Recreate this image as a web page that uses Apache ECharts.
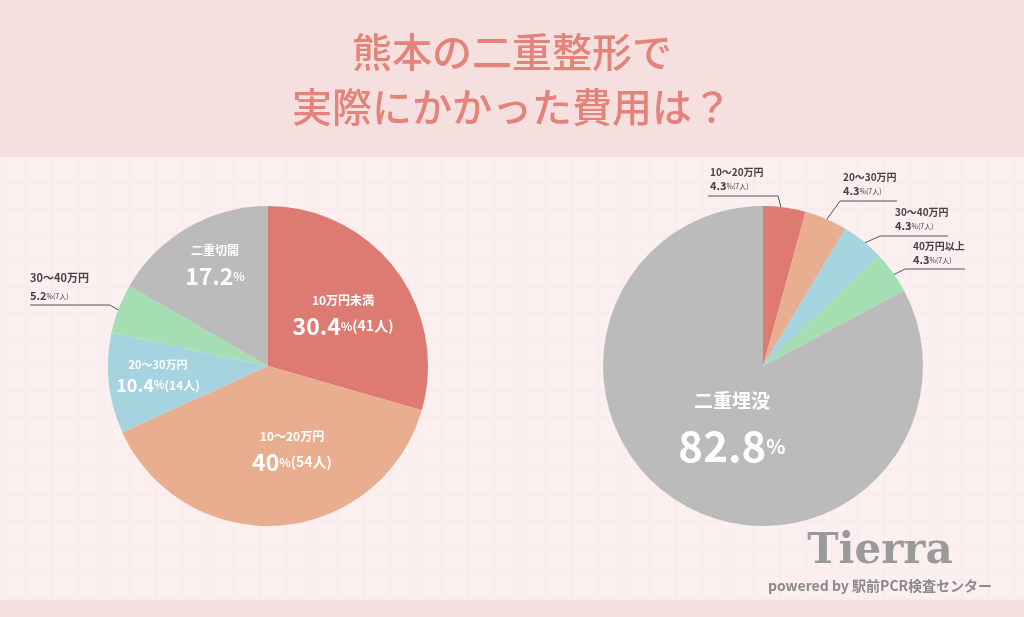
<!DOCTYPE html>
<html><head><meta charset="utf-8">
<script src="https://cdn.jsdelivr.net/npm/echarts@6/dist/echarts.min.js"></script>
<style>html,body{margin:0;padding:0;background:#fbefef}#c{width:1024px;height:617px}</style>
</head><body><div id="c"></div>
<script>
const titleLines = ['熊本の二重整形で', '実際にかかった費用は？'];
const leftNames = ['10万円未満', '10〜20万円', '20〜30万円', '30〜40万円', '二重切開'];
const leftValues = [30.4, 40, 10.4, 5.2, 17.2];
const leftCounts = ['41人', '54人', '14人', '7人', ''];
const rightNames = ['10〜20万円', '20〜30万円', '30〜40万円', '40万円以上', '二重埋没'];
const rightValues = [4.3, 4.3, 4.3, 4.3, 82.8];
const rightCounts = ['7人', '7人', '7人', '7人', ''];
const colors = ['#dd7b73', '#e9ae8f', '#a6d3e0', '#a6deb4', '#bbbbbb'];

const font = '"Noto Sans CJK JP", "Noto Sans", sans-serif';
const leftLayout = [
  {x:343, y:312}, {x:292, y:448}, {x:158, y:374, small:true},
  {x:30, y:283, left:true, pts:[[125,314],[110,305],[30,305]]},
  {x:215, y:262}
];
const rightLayout = [
  {x:710, y:178, left:true, pts:[[783,215],[778,196],[708,196]]},
  {x:843, y:183, left:true, pts:[[822,226],[840,201],[897,201]]},
  {x:895, y:218, left:true, pts:[[858,246],[880,236],[948,236]]},
  {x:913, y:252, left:true, pts:[[887,278],[905,269],[965,269]]},
  {x:732, y:422}
];
const rich = {
  n:{fontSize:12,fontWeight:'bold',color:'#fff',fontFamily:font,lineHeight:28},
  b:{fontSize:23,fontWeight:'bold',color:'#fff',fontFamily:font},
  s:{fontSize:12,fontWeight:'bold',color:'#fff',fontFamily:font},
  c:{fontSize:14,fontWeight:'bold',color:'#fff',fontFamily:font},
  sn:{fontSize:11,fontWeight:'bold',color:'#fff',fontFamily:font,lineHeight:22},
  sb:{fontSize:18,fontWeight:'bold',color:'#fff',fontFamily:font},
  ss:{fontSize:11,fontWeight:'bold',color:'#fff',fontFamily:font},
  sc:{fontSize:12,fontWeight:'bold',color:'#fff',fontFamily:font},
  N:{fontSize:19,fontWeight:'bold',color:'#fff',fontFamily:font,lineHeight:48},
  B:{fontSize:42,fontWeight:'bold',color:'#fff',fontFamily:font},
  S:{fontSize:20,fontWeight:'bold',color:'#fff',fontFamily:font},
  on:{fontSize:10,fontWeight:'bold',color:'#444',fontFamily:font,lineHeight:16},
  ob:{fontSize:11,fontWeight:'bold',color:'#444',fontFamily:font},
  os:{fontSize:7,color:'#444',fontFamily:font},
  ln:{fontSize:11,fontWeight:'bold',color:'#444',fontFamily:font,lineHeight:26},
  lb:{fontSize:11,fontWeight:'bold',color:'#444',fontFamily:font}
};
function mk(names, values, counts, layout, big){
  return names.map((n,i)=>{
    const L = layout[i], out = L.left;
    let f;
    if(out){
      const p = big ? 'o' : 'l';
      f = '{'+p+'n|'+n+'}\n{'+p+'b|'+values[i]+'}{os|%'+(counts[i]?'('+counts[i]+')':'')+'}';
    } else if(big){
      f = '{N|'+n+'}\n{B|'+values[i]+'}{S|%}';
    } else {
      const q = L.small ? 's' : '';
      f = '{'+q+'n|'+n+'}\n{'+q+'b|'+values[i]+'}{'+(q||'')+'s|%}'+(counts[i]?'{'+q+'c|('+counts[i]+')}':'');
      if(L.small) f = '{sn|'+n+'}\n{sb|'+values[i]+'}{ss|%}{sc|('+counts[i]+')}';
    }
    return {name:n, value:values[i], itemStyle:{color:colors[i]},
      label:{formatter:f, align: out?'left':'center', overflow:'none', width:200},
      labelLine:{show:!!out}};
  });
}
function lay(layout){
  return p=>{
    const L = layout[p.dataIndex];
    const r = {x:L.x, y:L.y, align:L.left?'left':'center', verticalAlign:'middle'};
    if(L.pts) r.labelLinePoints = L.pts;
    return r;
  };
}
const chart = echarts.init(document.getElementById('c'));
const gridLines = [];
for(let x=0;x<=1024;x+=26) gridLines.push({type:'line',shape:{x1:x,y1:157,x2:x,y2:600},style:{stroke:'rgba(235,200,200,0.12)',lineWidth:1},silent:true});
for(let y=157;y<=600;y+=26) gridLines.push({type:'line',shape:{x1:0,y1:y,x2:1024,y2:y},style:{stroke:'rgba(235,200,200,0.12)',lineWidth:1},silent:true});
chart.setOption({
  backgroundColor:'#fbefef',
  graphic:[
    {type:'rect',shape:{x:0,y:0,width:1024,height:157},style:{fill:'#f6dfdf'},z:-10},
    {type:'rect',shape:{x:0,y:600,width:1024,height:17},style:{fill:'#f6dfdf'},z:-10},
    ...gridLines,
    {type:'text',x:512,y:52,style:{text:titleLines[0],fill:'#e3837a',font:'500 40px '+font,align:'center',verticalAlign:'middle'}},
    {type:'text',x:512,y:107,style:{text:titleLines[1],fill:'#e3837a',font:'500 40px '+font,align:'center',verticalAlign:'middle'}},
    {type:'text',x:880,y:552,style:{text:'Tierra',fill:'#9a9a9a',font:'bold 42px "DejaVu Serif", serif',align:'center',verticalAlign:'middle'}},
    {type:'text',x:880,y:586,style:{text:'powered by 駅前PCR検査センター',fill:'#8a8a8a',font:'bold 14px '+font,align:'center',verticalAlign:'middle'}}
  ],
  series:[
    {type:'pie',center:[268,366],radius:160,startAngle:90,clockwise:true,silent:true,
     label:{show:true,rich:rich},labelLine:{lineStyle:{color:'#555',width:1}},
     labelLayout:lay(leftLayout),
     data:mk(leftNames,leftValues,leftCounts,leftLayout,false)},
    {type:'pie',center:[763,366],radius:160,startAngle:90,clockwise:true,silent:true,
     label:{show:true,rich:rich},labelLine:{lineStyle:{color:'#555',width:1}},
     labelLayout:lay(rightLayout),
     data:mk(rightNames,rightValues,rightCounts,rightLayout,true)}
  ]
});
</script></body></html>
